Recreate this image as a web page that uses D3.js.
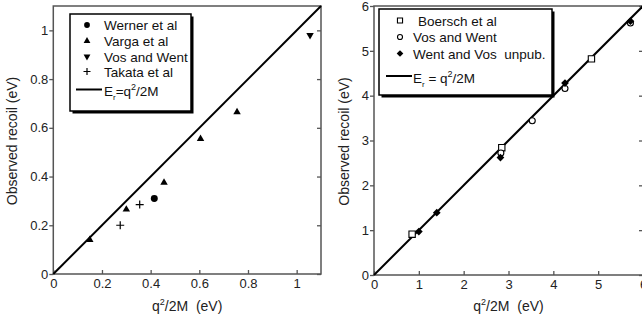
<!DOCTYPE html>
<html><head><meta charset="utf-8">
<script src="https://cdn.jsdelivr.net/npm/d3@7"></script>
<style>
body{margin:0;background:#fff;}
svg{display:block;font-family:"Liberation Sans",Arial,Helvetica,sans-serif;}
</style></head>
<body>
<svg id="c" width="642" height="323"></svg>
<script>
// ---- data ----
const leftTicks = [0, 0.2, 0.4, 0.6, 0.8, 1];
const rightTicks = [0, 1, 2, 3, 4, 5, 6];
const wernerData = [[0.415, 0.31]];
const vargaData = [[0.15, 0.14], [0.30, 0.265], [0.455, 0.375], [0.605, 0.555], [0.755, 0.665]];
const vosWentLeftData = [[1.055, 0.98]];
const takataData = [[0.275, 0.20], [0.355, 0.285]];
const boerschData = [[0.85, 0.91], [2.85, 2.84], [4.85, 4.82]];
const vosWentRightData = [[2.83, 2.72], [3.53, 3.44], [4.26, 4.16], [5.72, 5.62]];
const wentVosData = [[1.0, 0.97], [1.4, 1.39], [2.82, 2.62], [4.26, 4.28], [5.72, 5.66]];
const leftLegend = ["Werner et al", "Varga et al", "Vos and Went", "Takata et al"];
const rightLegend = ["Boersch et al", "Vos and Went", "Went and Vos  unpub."];
const yTitle = "Observed recoil (eV)";

const svg = d3.select("#c");
const frameCol = "#555";

function panel(cfg) {
  const g = svg.append("g");
  const x = d3.scaleLinear().domain(cfg.xd).range([cfg.l, cfg.r]);
  const y = d3.scaleLinear().domain(cfg.yd).range([cfg.b, cfg.t]);
  g.append("rect").attr("x", cfg.l).attr("y", cfg.t).attr("width", cfg.r - cfg.l).attr("height", cfg.b - cfg.t)
    .attr("fill", "none").attr("stroke", frameCol).attr("stroke-width", 1.5);
  const ay = g.append("g").attr("transform", `translate(${cfg.l},0)`)
    .call(d3.axisLeft(y).tickValues(cfg.ticks).tickSize(4).tickPadding(1).tickFormat(cfg.fmt));
  const ax = g.append("g").attr("transform", `translate(0,${cfg.b})`)
    .call(d3.axisBottom(x).tickValues(cfg.ticks).tickSize(-4).tickPadding(5).tickFormat(cfg.fmt));
  const ar = g.append("g").attr("transform", `translate(${cfg.r},0)`)
    .call(d3.axisRight(y).tickValues(cfg.ticks).tickSize(-4).tickFormat(""));
  [ay, ax, ar].forEach(a => {
    a.select(".domain").remove();
    a.selectAll("line").attr("stroke", frameCol).attr("stroke-width", 1.3);
    a.selectAll("text").attr("font-size", 13).attr("fill", "#222")
      .attr("font-family", "'Liberation Sans',Arial,sans-serif");
  });
  ax.selectAll("text").attr("dy", "0.71em");
  g.append("line").attr("x1", x(0)).attr("y1", y(0)).attr("x2", x(cfg.xd[1])).attr("y2", y(cfg.xd[1]))
    .attr("stroke", "#000").attr("stroke-width", 2);
  g.append("text").attr("transform", `translate(${cfg.ytx},${(cfg.t + cfg.b) / 2 + 1}) rotate(-90)`)
    .attr("text-anchor", "middle").attr("font-size", 14).attr("fill", "#222").text(yTitle);
  const xt = g.append("text").attr("x", (cfg.l + cfg.r) / 2).attr("y", 311).attr("text-anchor", "middle")
    .attr("font-size", 14).attr("fill", "#222").attr("xml:space", "preserve");
  xt.append("tspan").text("q");
  xt.append("tspan").attr("font-size", 9).attr("dy", -6).text("2");
  xt.append("tspan").attr("dy", 6).text("/2M  (eV)");
  return {g, x, y};
}

const fmtL = d => d === 0 ? "0" : d === 1 ? "1" : d3.format(".1f")(d);
const L = panel({xd: [0, 1.1], yd: [0, 1.1], l: 53.3, r: 321, t: 6, b: 274, ticks: leftTicks, fmt: fmtL, ytx: 17});
const R = panel({xd: [0, 6], yd: [0, 6], l: 374, r: 643, t: 6, b: 275, ticks: rightTicks, fmt: d3.format("d"), ytx: 349});

function sym(g, type, size, fill, stroke, cx, cy, rot) {
  g.append("path").attr("d", d3.symbol().type(type).size(size)())
    .attr("transform", `translate(${cx},${cy})` + (rot ? ` rotate(${rot})` : ""))
    .attr("fill", fill).attr("stroke", stroke).attr("stroke-width", 1.1);
}
function plus(g, cx, cy, s) {
  g.append("path").attr("d", `M${cx - s},${cy}H${cx + s}M${cx},${cy - s}V${cy + s}`)
    .attr("stroke", "#000").attr("stroke-width", 1.2).attr("fill", "none");
}

wernerData.forEach(d => sym(L.g, d3.symbolCircle, 38, "#000", "none", L.x(d[0]), L.y(d[1])));
vargaData.forEach(d => sym(L.g, d3.symbolTriangle, 24, "#000", "none", L.x(d[0]), L.y(d[1])));
vosWentLeftData.forEach(d => sym(L.g, d3.symbolTriangle, 24, "#000", "none", L.x(d[0]), L.y(d[1]), 180));
takataData.forEach(d => plus(L.g, L.x(d[0]), L.y(d[1]), 4));

boerschData.forEach(d => sym(R.g, d3.symbolSquare, 40, "#fff", "#000", R.x(d[0]), R.y(d[1])));
vosWentRightData.forEach(d => sym(R.g, d3.symbolCircle, 28, "#fff", "#000", R.x(d[0]), R.y(d[1])));
wentVosData.forEach(d => sym(R.g, d3.symbolSquare, 30, "#000", "none", R.x(d[0]), R.y(d[1]), 45));

function legendBox(x0, y0, w, h) {
  svg.append("rect").attr("x", x0 + 2.5).attr("y", y0 + 2.5).attr("width", w).attr("height", h).attr("fill", "#000");
  svg.append("rect").attr("x", x0).attr("y", y0).attr("width", w).attr("height", h)
    .attr("fill", "#fff").attr("stroke", "#000").attr("stroke-width", 1.5);
}
function formulaText(x0, y0, spaced) {
  const t = svg.append("text").attr("x", x0).attr("y", y0).attr("font-size", 13.5).attr("fill", "#111");
  t.append("tspan").text("E");
  t.append("tspan").attr("font-size", 8).attr("dy", 4).text("r");
  t.append("tspan").attr("dy", -4).text(spaced ? " = q" : "=q");
  t.append("tspan").attr("font-size", 9).attr("dy", -6).text("2");
  t.append("tspan").attr("dy", 6).text("/2M");
}

legendBox(70, 14, 121, 97);
const lsy = [25, 41, 56.5, 71.5];
sym(svg, d3.symbolCircle, 26, "#000", "none", 87, lsy[0]);
sym(svg, d3.symbolTriangle, 20, "#000", "none", 87, lsy[1]);
sym(svg, d3.symbolTriangle, 20, "#000", "none", 87, lsy[2], 180);
plus(svg, 87, lsy[3], 3.5);
leftLegend.forEach((s, i) => svg.append("text").attr("x", 104).attr("y", lsy[i] + 5).attr("font-size", 13.5)
  .attr("fill", "#111").text(s));
svg.append("line").attr("x1", 76).attr("x2", 102).attr("y1", 89.5).attr("y2", 89.5).attr("stroke", "#000").attr("stroke-width", 2);
formulaText(104, 96, false);

legendBox(379, 9, 173, 86);
const rsy = [20.5, 37, 53.5];
sym(svg, d3.symbolSquare, 26, "#fff", "#000", 400, rsy[0]);
sym(svg, d3.symbolCircle, 20, "#fff", "#000", 400, rsy[1]);
sym(svg, d3.symbolSquare, 22, "#000", "none", 400, rsy[2], 45);
rightLegend.forEach((s, i) => svg.append("text").attr("x", i === 0 ? 418 : 413).attr("y", rsy[i] + 5)
  .attr("font-size", 13.5).attr("fill", "#111").attr("xml:space", "preserve").text(s));
svg.append("line").attr("x1", 386).attr("x2", 412).attr("y1", 76).attr("y2", 76).attr("stroke", "#000").attr("stroke-width", 2);
formulaText(413, 82.5, true);
</script>
</body></html>
